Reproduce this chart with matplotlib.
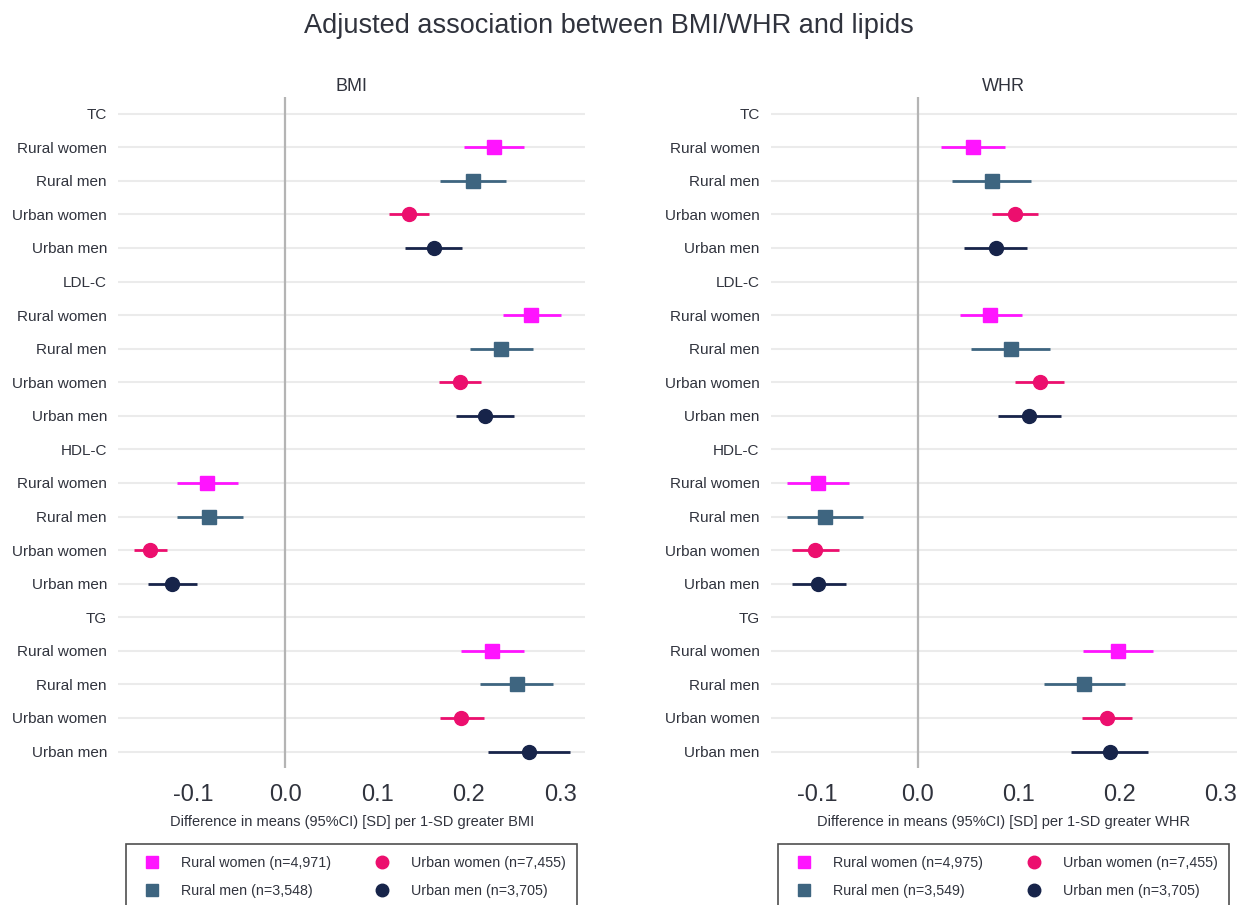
import numpy as np
import matplotlib.pyplot as plt
from matplotlib.lines import Line2D

plt.rcParams['font.family'] = ['Liberation Sans', 'DejaVu Sans']

# Groups and lipids
groups = ['Rural women', 'Rural men', 'Urban women', 'Urban men']
lipids = ['TC', 'LDL-C', 'HDL-C', 'TG']
colors = ['#ff14ff', '#3e6580', '#ec0f6e', '#17244a']
markers = ['s', 's', 'o', 'o']

# BMI: estimates and 95% CI, rows = lipids, cols = groups
bmi_est = [[0.227, 0.204, 0.135, 0.162],
           [0.268, 0.235, 0.190, 0.218],
           [-0.085, -0.083, -0.147, -0.123],
           [0.225, 0.252, 0.192, 0.265]]
bmi_lo = [[0.195, 0.169, 0.113, 0.131],
          [0.237, 0.201, 0.167, 0.186],
          [-0.118, -0.118, -0.165, -0.149],
          [0.191, 0.212, 0.169, 0.221]]
bmi_hi = [[0.260, 0.240, 0.157, 0.193],
          [0.300, 0.270, 0.213, 0.249],
          [-0.051, -0.046, -0.129, -0.096],
          [0.260, 0.292, 0.216, 0.310]]

# WHR
whr_est = [[0.055, 0.073, 0.096, 0.077],
           [0.071, 0.092, 0.121, 0.110],
           [-0.099, -0.092, -0.102, -0.099],
           [0.198, 0.165, 0.187, 0.190]]
whr_lo = [[0.023, 0.034, 0.073, 0.046],
          [0.042, 0.053, 0.096, 0.079],
          [-0.130, -0.130, -0.125, -0.125],
          [0.164, 0.125, 0.163, 0.152]]
whr_hi = [[0.086, 0.112, 0.119, 0.108],
          [0.103, 0.131, 0.145, 0.142],
          [-0.068, -0.054, -0.078, -0.071],
          [0.233, 0.205, 0.212, 0.228]]

bmi_n = ['4,971', '3,548', '7,455', '3,705']
whr_n = ['4,975', '3,549', '7,455', '3,705']

xticks = [-0.1, 0.0, 0.1, 0.2, 0.3]
txt = '#30333d'

fig = plt.figure(figsize=(12.43, 9.05), dpi=100)
fig.text(0.49, 0.971, 'Adjusted association between BMI/WHR and lipids',
         ha='center', va='center', fontsize=19.5, color=txt)

ax1 = fig.add_axes([0.095, 0.151, 0.376, 0.742])
ax2 = fig.add_axes([0.620, 0.151, 0.375, 0.742])


def draw(ax, est, lo, hi, title, xlim, counts, xlabel):
    labels = []
    row = 0
    for i, lip in enumerate(lipids):
        labels.append(lip)
        row += 1
        for j, g in enumerate(groups):
            ax.plot([lo[i][j], hi[i][j]], [row, row], color=colors[j], lw=2,
                    zorder=3, solid_capstyle='butt')
            ax.plot(est[i][j], row, marker=markers[j], color=colors[j],
                    markersize=10, zorder=4, linestyle='none')
            labels.append(g)
            row += 1
    n = len(labels)
    for r in range(n):
        ax.axhline(r, color='#ebebeb', lw=1.5, zorder=1)
    ax.axvline(0, color='#b4b4b4', lw=1.6, zorder=2)
    ax.set_ylim(n - 0.5, -0.5)
    ax.set_xlim(*xlim)
    ax.set_yticks(range(n))
    ax.set_yticklabels(labels, fontsize=11, color=txt)
    ax.set_xticks(xticks)
    ax.set_xticklabels(['%.1f' % t for t in xticks], fontsize=17, color=txt)
    ax.tick_params(length=0)
    ax.tick_params(axis='y', pad=8)
    ax.tick_params(axis='x', pad=11)
    for s in ax.spines.values():
        s.set_visible(False)
    ax.set_title(title, fontsize=13, color=txt, pad=4)
    ax.set_xlabel(xlabel, fontsize=10.5, color=txt, labelpad=7)

    handles = [Line2D([], [], marker=markers[j], color=colors[j], linestyle='none',
                      markersize=9) for j in range(4)]
    names = ['%s (n=%s)' % (g, c) for g, c in zip(groups, counts)]
    leg = ax.legend(handles, names, loc='upper center', bbox_to_anchor=(0.5, -0.113),
                    ncol=2, fontsize=10.3, frameon=True, fancybox=False,
                    edgecolor='#222222', borderpad=0.8, handletextpad=1.0,
                    columnspacing=2.6, labelspacing=1.0, borderaxespad=0)
    leg.get_frame().set_linewidth(1.2)
    for t in leg.get_texts():
        t.set_color(txt)


draw(ax1, bmi_est, bmi_lo, bmi_hi, 'BMI', (-0.182, 0.327), bmi_n,
     'Difference in means (95%CI) [SD] per 1-SD greater BMI')
draw(ax2, whr_est, whr_lo, whr_hi, 'WHR', (-0.146, 0.316), whr_n,
     'Difference in means (95%CI) [SD] per 1-SD greater WHR')

fig.savefig('out.png', dpi=100)
